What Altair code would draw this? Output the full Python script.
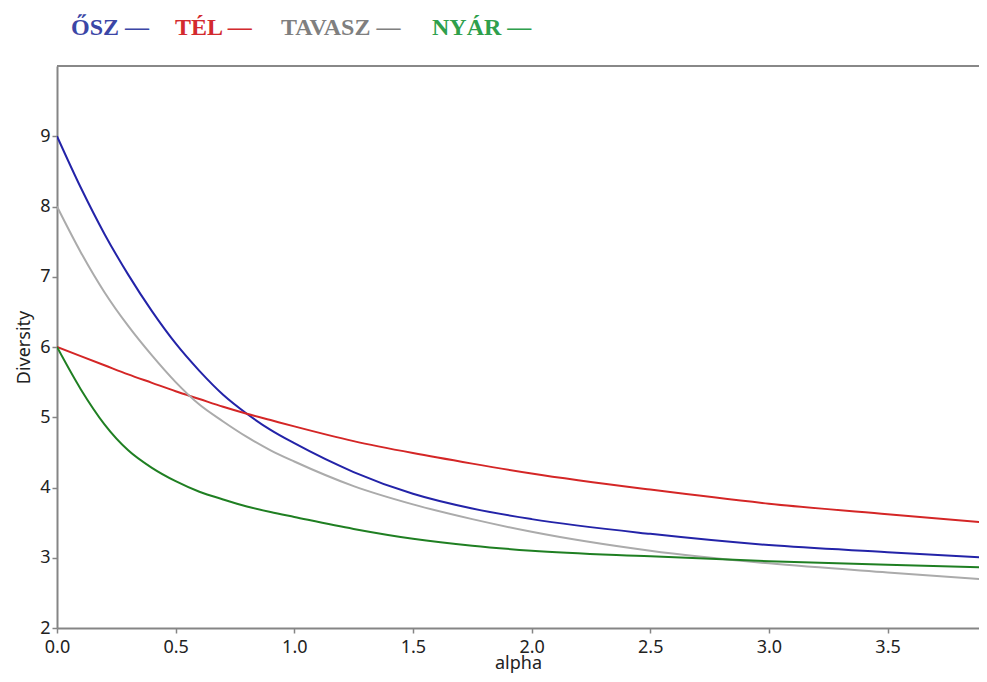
import altair as alt
import pandas as pd

ALPHA = [0.0, 0.1, 0.2, 0.3, 0.4, 0.5, 0.6, 0.7, 0.8, 0.9, 1.0, 1.25, 1.5, 1.75, 2.0, 2.5, 3.0, 3.5, 3.92]

OSZ =    [9.00, 8.27, 7.61, 7.03, 6.51, 6.05, 5.66, 5.32, 5.05, 4.82, 4.63, 4.22, 3.91, 3.70, 3.55, 3.34, 3.18, 3.08, 3.00]
TEL =    [6.00, 5.87, 5.74, 5.61, 5.49, 5.37, 5.26, 5.15, 5.05, 4.96, 4.87, 4.66, 4.49, 4.34, 4.20, 3.97, 3.77, 3.62, 3.50]
TAVASZ = [8.00, 7.35, 6.78, 6.30, 5.88, 5.50, 5.18, 4.94, 4.72, 4.53, 4.37, 4.02, 3.76, 3.55, 3.37, 3.10, 2.92, 2.79, 2.69]
NYAR =   [6.00, 5.40, 4.90, 4.53, 4.28, 4.09, 3.94, 3.83, 3.73, 3.65, 3.58, 3.41, 3.27, 3.17, 3.10, 3.02, 2.95, 2.90, 2.86]

SERIES = ["ŐSZ", "TÉL", "TAVASZ", "NYÁR"]
LINE_COLORS = ["#2323a8", "#d42626", "#ababab", "#1f7f22"]
LEGEND_COLORS = ["#3b46a6", "#d32a2e", "#7f7f7f", "#2ea04c"]
LEGEND_TEXT = ["ŐSZ —", "TÉL —", "TAVASZ —", "NYÁR —"]
LEGEND_X = [14, 118, 224, 375]

X_TICKS = [0.0, 0.5, 1.0, 1.5, 2.0, 2.5, 3.0, 3.5]
Y_TICKS = [2, 3, 4, 5, 6, 7, 8, 9]

rows = []
for name, vals in zip(SERIES, [OSZ, TEL, TAVASZ, NYAR]):
    for a, v in zip(ALPHA, vals):
        rows.append({"alpha": a, "value": v, "season": name})
df = pd.DataFrame(rows)

W, H = 922, 562
X_MAX = W / 237.3
FONT = "Noto Sans"

lines = alt.Chart(df).mark_line(strokeWidth=2, interpolate="monotone", clip=True).encode(
    x=alt.X("alpha:Q", title="alpha",
            scale=alt.Scale(domain=[0, X_MAX], nice=False, zero=False),
            axis=alt.Axis(values=X_TICKS, format=".1f", grid=False, labelFlush=False,
                          labelPadding=5, titlePadding=-2)),
    y=alt.Y("value:Q", title="Diversity",
            scale=alt.Scale(domain=[2, 10], nice=False, zero=False),
            axis=alt.Axis(values=Y_TICKS, format="d", grid=False, labelFlush=False,
                          labelPadding=2, titlePadding=6)),
    color=alt.Color("season:N", scale=alt.Scale(domain=SERIES, range=LINE_COLORS), legend=None),
    detail="season:N",
)

top_border = alt.Chart(pd.DataFrame({"k": [0]})).mark_rule(color="#888888", strokeWidth=2).encode(
    x=alt.value(0), x2=alt.value(W), y=alt.value(0)
)

layers = [lines, top_border]
for txt, col, xp in zip(LEGEND_TEXT, LEGEND_COLORS, LEGEND_X):
    layers.append(
        alt.Chart(pd.DataFrame({"t": [txt]})).mark_text(
            font="Liberation Serif", fontWeight="bold", fontSize=24, color=col,
            align="left", baseline="alphabetic"
        ).encode(text="t:N", x=alt.value(xp), y=alt.value(-31))
    )

chart = alt.layer(*layers).properties(
    width=W, height=H,
    autosize=alt.AutoSizeParams(type="none"),
    padding={"left": 49, "top": 58, "right": 0, "bottom": 46},
).configure_view(stroke=None).configure_axis(
    domainColor="#858585", domainWidth=2,
    tickColor="#858585", tickWidth=1.5, tickSize=5,
    labelFont=FONT, labelFontSize=18, labelColor="#222222",
    titleFont=FONT, titleFontSize=18, titleFontWeight="normal", titleColor="#222222",
)

chart.save("out.html", embed_options={"renderer": "svg", "actions": False})
